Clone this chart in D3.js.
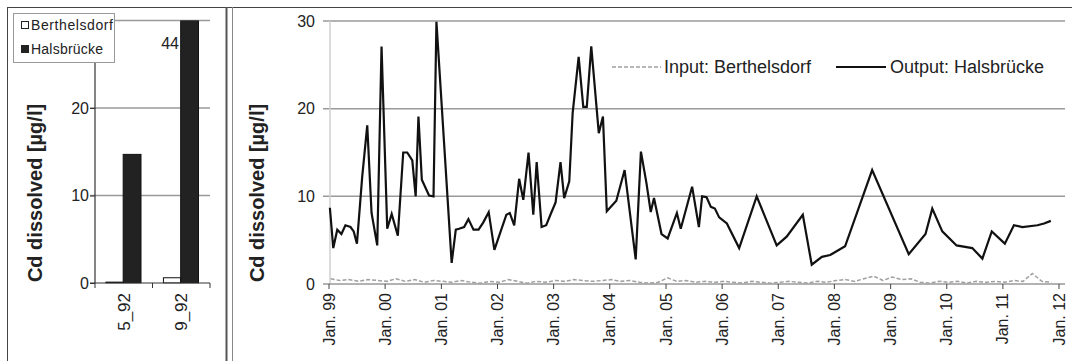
<!DOCTYPE html>
<html>
<head>
<meta charset="utf-8">
<script src="https://cdn.jsdelivr.net/npm/d3@7"></script>
<style>
html,body{margin:0;padding:0;background:#fff;}
svg{display:block;font-family:"Liberation Sans",Arial,sans-serif;}
</style>
</head>
<body>
<svg id="chart" width="1072" height="361"></svg>
<script>
// ---- Left panel (bar chart) data ----
const barCategories = ["5_92", "9_92"];
const barBerthelsdorf = [0.1, 0.6];
const barHalsbruecke = [14.7, 44];
const barLegend = ["Berthelsdorf", "Halsbrücke"];

// ---- Right panel (time series) data ----
const yTicks = [0, 10, 20, 30];
const xTickYears = ["1999","2000","2001","2002","2003","2004","2005","2006","2007","2008","2009","2010","2011","2012"];
const xTickLabels = ["Jan. 99","Jan. 00","Jan. 01","Jan. 02","Jan. 03","Jan. 04","Jan. 05","Jan. 06","Jan. 07","Jan. 08","Jan. 09","Jan. 10","Jan. 11","Jan. 12"];
const seriesNames = ["Input: Berthelsdorf", "Output: Halsbrücke"];

const outDates = [
"1999-01-10","1999-02-01","1999-02-27","1999-03-26","1999-04-21","1999-05-24","1999-06-14","1999-07-05","1999-08-08","1999-09-10","1999-10-08","1999-11-14","1999-12-12",
"2000-01-18","2000-02-16","2000-03-27","2000-05-01","2000-05-27","2000-06-29","2000-07-21","2000-08-08","2000-08-30","2000-10-16","2000-11-14","2000-12-03",
"2001-03-12","2001-04-08","2001-04-29","2001-06-01","2001-06-29","2001-08-01","2001-09-03","2001-10-03","2001-11-08","2001-12-15",
"2002-01-21","2002-03-03","2002-03-25","2002-04-23","2002-05-25","2002-06-21","2002-07-25","2002-08-25","2002-09-16","2002-10-18","2002-11-17","2002-12-19",
"2003-01-17","2003-02-18","2003-03-14","2003-04-16","2003-05-08","2003-06-16","2003-07-16","2003-08-08","2003-09-06","2003-10-25","2003-11-21","2003-12-16",
"2004-02-16","2004-04-10","2004-06-21","2004-07-25","2004-08-30","2004-09-27","2004-10-18","2004-12-06",
"2005-01-15","2005-03-16","2005-04-10","2005-06-23","2005-08-06","2005-08-27","2005-09-25","2005-10-23","2005-11-18","2005-12-16",
"2006-02-04","2006-04-25","2006-08-17","2006-12-25",
"2007-02-28","2007-06-13","2007-08-10","2007-10-15","2007-12-08",
"2008-03-14","2008-09-06",
"2009-05-02","2009-08-19","2009-10-02","2009-12-06",
"2010-03-09","2010-06-19","2010-08-24","2010-10-24",
"2011-01-17","2011-03-17","2011-05-11","2011-08-17","2011-09-29","2011-11-12"
];
const outValues = [
8.7,4.1,6.2,5.7,6.7,6.5,6.0,4.6,12.2,18.1,8.1,4.4,27.1,
6.3,8.0,5.5,15.0,15.0,14.1,10.0,19.1,11.9,10.1,10.0,29.9,
2.4,6.2,6.3,6.5,7.4,6.2,6.2,7.0,8.2,3.9,
5.8,7.9,8.1,6.7,12.0,9.6,15.0,7.9,13.9,6.5,6.7,8.1,
9.3,13.9,9.8,11.7,19.5,25.9,20.2,20.2,27.1,17.2,19.1,8.3,
9.5,13.0,2.8,15.1,11.5,8.2,9.8,5.7,
5.2,8.1,6.3,11.1,6.5,10.0,9.9,8.8,8.6,7.6,
6.9,4.1,10.0,4.4,
5.4,7.9,2.2,3.1,3.3,
4.3,13.0,
3.4,5.7,8.6,6.0,
4.4,4.1,2.9,6.0,
4.6,6.7,6.5,6.7,6.9,7.2
];

const inDates = [
"1999-01-15","1999-03-15","1999-05-15","1999-07-15","1999-09-15","1999-11-15",
"2000-01-15","2000-03-15","2000-05-15","2000-07-15","2000-09-15","2000-11-15",
"2001-01-15","2001-03-15","2001-05-15","2001-07-15","2001-09-15","2001-11-15",
"2002-01-15","2002-03-15","2002-05-15","2002-07-15","2002-09-15","2002-11-15",
"2003-01-15","2003-03-15","2003-05-15","2003-07-15","2003-09-15","2003-11-15",
"2004-01-15","2004-03-15","2004-05-15","2004-07-15","2004-09-15","2004-11-15",
"2005-01-15","2005-03-15","2005-05-15","2005-07-15","2005-09-15","2005-11-15",
"2006-01-15","2006-03-15","2006-05-15","2006-07-15","2006-09-15","2006-11-15",
"2007-01-15","2007-03-15","2007-05-15","2007-07-15","2007-09-15","2007-11-15",
"2008-01-15","2008-03-15","2008-05-15","2008-07-15","2008-09-15","2008-11-15",
"2009-01-15","2009-03-15","2009-05-15","2009-07-15","2009-09-15","2009-11-15",
"2010-01-15","2010-03-15","2010-05-15","2010-07-15","2010-09-15","2010-11-15",
"2011-01-15","2011-03-15","2011-05-15","2011-07-15","2011-09-15","2011-11-15"
];
const inValues = [
0.6,0.4,0.5,0.3,0.5,0.4,
0.3,0.6,0.3,0.5,0.2,0.4,
0.3,0.2,0.4,0.2,0.1,0.3,
0.2,0.5,0.3,0.1,0.3,0.2,
0.4,0.3,0.5,0.4,0.3,0.4,
0.5,0.3,0.4,0.2,0.1,0.2,
0.7,0.3,0.4,0.2,0.3,0.2,
0.3,0.2,0.1,0.3,0.2,0.1,
0.2,0.3,0.2,0.1,0.3,0.2,
0.4,0.5,0.3,0.6,0.9,0.4,
0.8,0.5,0.6,0.2,0.1,0.3,
0.2,0.3,0.1,0.3,0.2,0.3,
0.2,0.4,0.3,1.2,0.3,0.2
];

const parse = d3.timeParse("%Y-%m-%d");
const parseY = d3.timeParse("%Y");
const svg = d3.select("#chart");

// ---- Frame lines ----
const frame = svg.append("g");
frame.append("line").attr("x1",7).attr("x2",1072).attr("y1",7.5).attr("y2",7.5).attr("stroke","#444").attr("stroke-width",1);
frame.append("line").attr("x1",7.5).attr("x2",7.5).attr("y1",7).attr("y2",361).attr("stroke","#444").attr("stroke-width",1);
frame.append("line").attr("x1",226.5).attr("x2",226.5).attr("y1",7).attr("y2",361).attr("stroke","#555").attr("stroke-width",2);
frame.append("line").attr("x1",232.5).attr("x2",232.5).attr("y1",7).attr("y2",361).attr("stroke","#888").attr("stroke-width",1);

const gridColor = "#9a9a9a";

// ================= LEFT PANEL =================
const yL = d3.scaleLinear().domain([0,30]).range([283,20.5]);
const xL = d3.scaleBand().domain(barCategories).range([95,210]).paddingInner(0).paddingOuter(0);
const gL = svg.append("g");

gL.selectAll("line.grid").data([10,20,30]).join("line")
  .attr("x1",90).attr("x2",210).attr("y1",d=>yL(d)).attr("y2",d=>yL(d))
  .attr("stroke",gridColor).attr("stroke-width",1.5);

const yAxisL = d3.axisLeft(yL).tickValues([0,10,20]).tickSize(5).tickSizeOuter(0);
const gyL = gL.append("g").attr("transform","translate(95,0)").call(yAxisL);
gyL.select(".domain").attr("d","M0,20.5V283").attr("stroke","#333").attr("stroke-width",1.2);
gyL.selectAll(".tick line").attr("stroke","#333");
gyL.selectAll(".tick text").attr("x",-6).attr("font-size",16).attr("fill","#222").attr("font-family","Liberation Sans, Arial, sans-serif");

const bw = xL.bandwidth();
const barData = barCategories.map((c,i)=>({c, b:barBerthelsdorf[i], h:barHalsbruecke[i]}));
svg.append("defs").append("clipPath").attr("id","clipL").append("rect").attr("x",90).attr("y",20.5).attr("width",130).attr("height",263);
const bars = gL.append("g").attr("clip-path","url(#clipL)");
bars.selectAll("rect.b").data(barData).join("rect")
  .attr("x",d=>xL(d.c)+bw*0.19).attr("width",bw*0.3)
  .attr("y",d=>yL(d.b)).attr("height",d=>yL(0)-yL(d.b))
  .attr("fill","#fff").attr("stroke","#111").attr("stroke-width",1);
bars.selectAll("rect.h").data(barData).join("rect")
  .attr("x",d=>xL(d.c)+bw*0.49).attr("width",bw*0.31)
  .attr("y",d=>yL(Math.min(d.h,30))).attr("height",d=>yL(0)-yL(Math.min(d.h,30)))
  .attr("fill","#222").attr("stroke","#111").attr("stroke-width",1);

const xAxisL = d3.axisBottom(xL).tickSize(0);
const gxL = gL.append("g").attr("transform","translate(0,283)").call(xAxisL);
gxL.select(".domain").attr("d","M90,0H210").attr("stroke","#333").attr("stroke-width",1.2);
gL.selectAll("line.xt").data([95,152.5,210]).join("line")
  .attr("x1",d=>d).attr("x2",d=>d).attr("y1",283).attr("y2",288).attr("stroke","#333");
gxL.selectAll(".tick text")
  .attr("transform","rotate(-90)").attr("text-anchor","end").attr("dy","0.35em")
  .attr("x",-10).attr("y",0)
  .attr("font-size",17).attr("fill","#222").attr("font-family","Liberation Sans, Arial, sans-serif");

gL.append("text").attr("x",xL("9_92")+bw*0.46).attr("y",yL(26.8))
  .attr("text-anchor","end").attr("font-size",16).attr("fill","#222")
  .text(String(barHalsbruecke[1]));

const lg = gL.append("g");
lg.append("rect").attr("x",13.5).attr("y",13.5).attr("width",101).attr("height",49)
  .attr("fill","#fff").attr("stroke","#999").attr("stroke-width",1);
lg.append("rect").attr("x",21.5).attr("y",21.5).attr("width",7).attr("height",7).attr("fill","#fff").attr("stroke","#222");
lg.append("rect").attr("x",21.5).attr("y",45.5).attr("width",7).attr("height",7).attr("fill","#222").attr("stroke","#222");
lg.append("text").attr("x",31).attr("y",30).attr("font-size",14).attr("fill","#222").attr("textLength",82).text(barLegend[0]);
lg.append("text").attr("x",31).attr("y",54).attr("font-size",14).attr("fill","#222").attr("textLength",72).text(barLegend[1]);

gL.append("text").attr("transform","translate(42,193) rotate(-90)").attr("text-anchor","middle")
  .attr("font-size",20).attr("font-weight","bold").attr("fill","#222").text("Cd dissolved [µg/l]");

// ================= RIGHT PANEL =================
const xR = d3.scaleTime().domain([parseY("1999"), parseY("2012")]).range([328.5,1058.5]);
const yR = d3.scaleLinear().domain([0,30]).range([284,21]);
const gR = svg.append("g");

gR.selectAll("line.grid").data(yTicks.filter(d=>d>0)).join("line")
  .attr("x1",323).attr("x2",1065).attr("y1",d=>yR(d)).attr("y2",d=>yR(d))
  .attr("stroke",gridColor).attr("stroke-width",1.5);

gR.append("line").attr("x1",330).attr("x2",330).attr("y1",21).attr("y2",284).attr("stroke","#d0d0d0").attr("stroke-width",1.5);
const yAxisR = d3.axisLeft(yR).tickValues(yTicks).tickSize(0);
const gyR = gR.append("g").attr("transform","translate(330,0)").call(yAxisR);
gyR.select(".domain").remove();
gyR.selectAll(".tick text").attr("x",-15).attr("font-size",16).attr("fill","#222").attr("font-family","Liberation Sans, Arial, sans-serif");

const xAxisR = d3.axisBottom(xR).tickValues(xTickYears.map(parseY)).tickSize(5)
  .tickFormat((d,i)=>xTickLabels[i]);
const gxR = gR.append("g").attr("transform","translate(0,284)").call(xAxisR);
gxR.select(".domain").attr("d","M323,0H1065").attr("stroke","#999").attr("stroke-width",1.5);
gxR.selectAll(".tick line").attr("stroke","#444");
gxR.selectAll(".tick text")
  .attr("transform","rotate(-90)").attr("text-anchor","end").attr("dy","0.35em")
  .attr("x",-9).attr("y",0)
  .attr("font-size",16).attr("fill","#222").attr("font-family","Liberation Sans, Arial, sans-serif");

const inData = inDates.map((d,i)=>({d:parse(d), v:inValues[i]}));
const outData = outDates.map((d,i)=>({d:parse(d), v:outValues[i]}));
const line = d3.line().x(p=>xR(p.d)).y(p=>yR(p.v));
gR.append("path").datum(inData).attr("d",line).attr("fill","none")
  .attr("stroke","#a0a0a0").attr("stroke-width",1.5).attr("stroke-dasharray","4,2");
gR.append("path").datum(outData).attr("d",line).attr("fill","none")
  .attr("stroke","#111").attr("stroke-width",2.2).attr("stroke-linejoin","miter");

const lgR = gR.append("g");
lgR.append("line").attr("x1",612).attr("x2",661).attr("y1",67).attr("y2",67)
  .attr("stroke","#a0a0a0").attr("stroke-width",1.5).attr("stroke-dasharray","4,2");
lgR.append("text").attr("x",664).attr("y",73).attr("font-size",18).attr("fill","#222").text(seriesNames[0]);
lgR.append("line").attr("x1",836).attr("x2",886).attr("y1",67).attr("y2",67)
  .attr("stroke","#111").attr("stroke-width",2.2);
lgR.append("text").attr("x",890).attr("y",73).attr("font-size",18).attr("fill","#222").text(seriesNames[1]);

gR.append("text").attr("transform","translate(264,193) rotate(-90)").attr("text-anchor","middle")
  .attr("font-size",20).attr("font-weight","bold").attr("fill","#222").text("Cd dissolved [µg/l]");
</script>
</body>
</html>
